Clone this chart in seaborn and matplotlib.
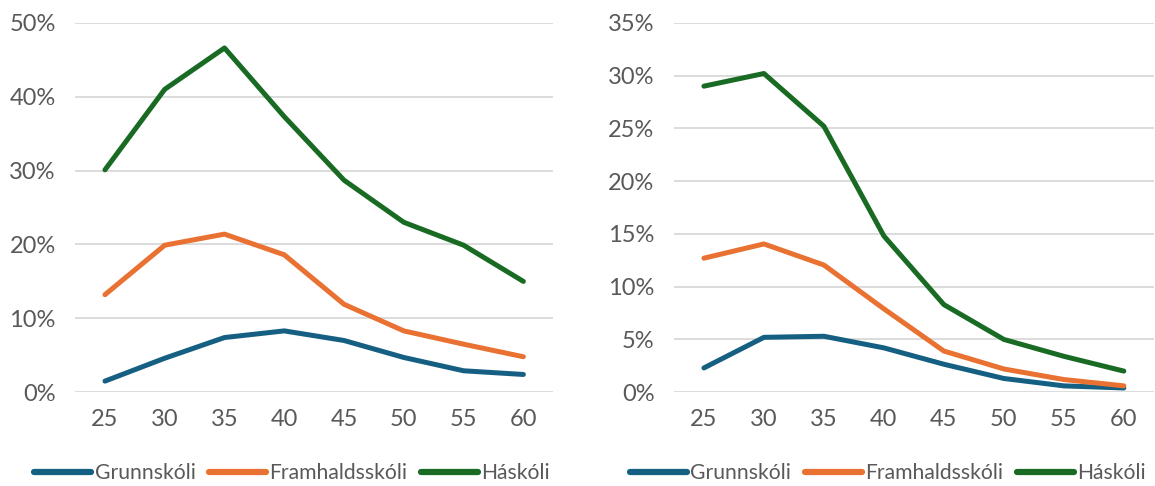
import pandas as pd
import matplotlib.pyplot as plt
import seaborn as sns
from matplotlib.ticker import PercentFormatter

sns.set_theme(style='white')
plt.rcParams['font.family'] = ['Lato', 'DejaVu Sans']

ages = [25, 30, 35, 40, 45, 50, 55, 60]
groups = ['Grunnskóli', 'Framhaldsskóli', 'Háskóli']
colors = ['#156082', '#E97132', '#196B24']

# left panel (%)
left_grunn = [1.5, 4.6, 7.4, 8.3, 7.0, 4.7, 2.9, 2.4]
left_framh = [13.2, 19.9, 21.4, 18.6, 11.9, 8.3, 6.5, 4.8]
left_hask = [30.1, 41.0, 46.6, 37.3, 28.7, 23.0, 19.9, 15.0]

# right panel (%)
right_grunn = [2.3, 5.2, 5.3, 4.2, 2.65, 1.3, 0.6, 0.4]
right_framh = [12.7, 14.05, 12.05, 7.9, 3.9, 2.2, 1.2, 0.6]
right_hask = [29.0, 30.2, 25.2, 14.8, 8.3, 5.0, 3.4, 2.0]


def to_long(series):
    rows = []
    for g, vals in zip(groups, series):
        for a, v in zip(ages, vals):
            rows.append({'Aldur': a, 'Hlutfall': v, 'Menntun': g})
    return pd.DataFrame(rows)


fig = plt.figure(figsize=(11.55, 4.86), dpi=100)
ax1 = fig.add_axes([0.065, 0.193, 0.414, 0.76])
ax2 = fig.add_axes([0.5835, 0.193, 0.4155, 0.76])

panels = [
    (ax1, [left_grunn, left_framh, left_hask], 50, 10, 0.454),
    (ax2, [right_grunn, right_framh, right_hask], 35, 5, 0.446),
]

for ax, series, ymax, step, legx in panels:
    df = to_long(series)
    sns.lineplot(data=df, x='Aldur', y='Hlutfall', hue='Menntun',
                 palette=colors, linewidth=3.6, ax=ax,
                 solid_capstyle='round', solid_joinstyle='round')
    ax.set_xlim(22.5, 62.5)
    ax.set_ylim(0, ymax)
    ax.set_yticks(range(0, ymax + 1, step))
    ax.set_xticks(ages)
    ax.yaxis.set_major_formatter(PercentFormatter(decimals=0))
    ax.grid(axis='y', color='#D9D9D9', linewidth=1.3)
    ax.grid(axis='x', visible=False)
    for s in ax.spines.values():
        s.set_visible(False)
    ax.tick_params(axis='both', length=0, labelsize=17, labelcolor='#595959')
    ax.tick_params(axis='x', pad=12)
    ax.tick_params(axis='y', pad=14)
    ax.set_xlabel('')
    ax.set_ylabel('')
    ax.legend(loc='center', bbox_to_anchor=(legx, -0.22), ncol=3,
              frameon=False, fontsize=15.2, handlelength=2.7,
              handletextpad=0.15, columnspacing=0.65, labelcolor='#595959',
              borderpad=0, borderaxespad=0)
    for line in ax.get_legend().get_lines():
        line.set_linewidth(4.5)
        line.set_solid_capstyle('round')

fig.savefig('out.png', dpi=100)
